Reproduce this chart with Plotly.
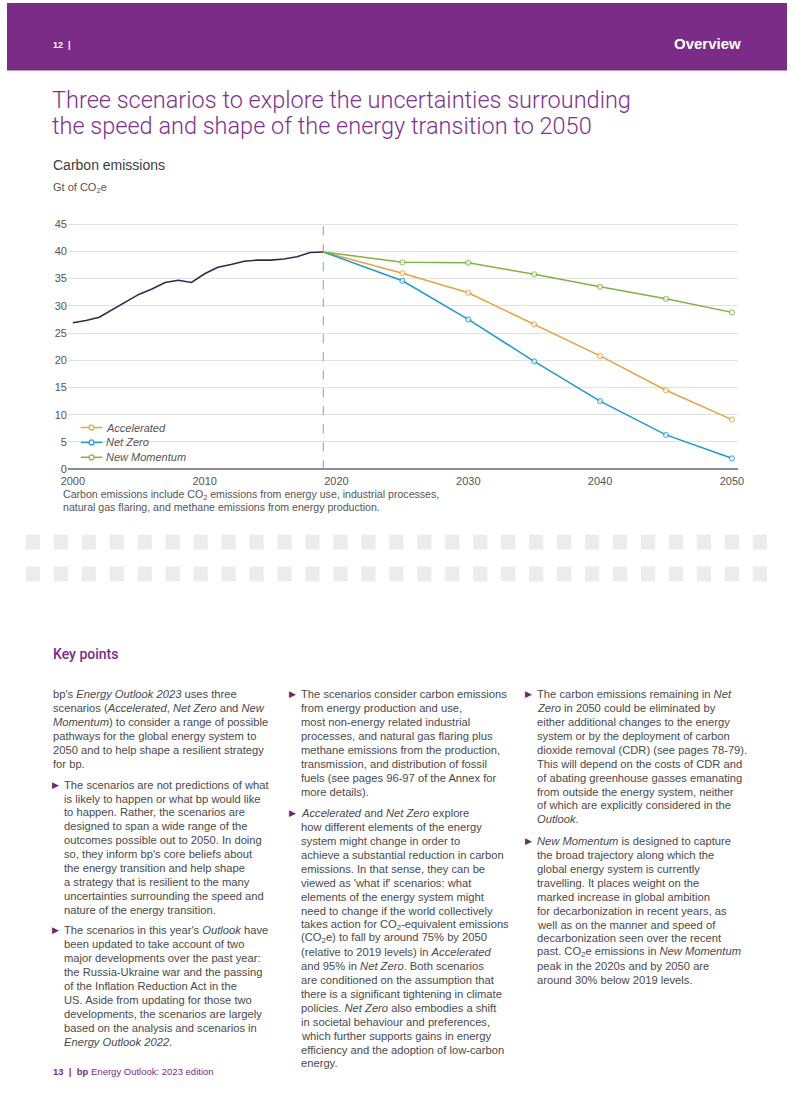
import plotly.graph_objects as go

W, H = 793, 1118

# ---------------- data ----------------
hist_years = list(range(2000, 2020))
hist_values = [26.9, 27.3, 27.9, 29.3, 30.8, 32.1, 33.1, 34.3, 34.7, 34.3,
               35.9, 37.1, 37.6, 38.2, 38.4, 38.4, 38.6, 39.0, 39.8, 39.9]

scen_years = [2019, 2025, 2030, 2035, 2040, 2045, 2050]
accelerated = [39.9, 36.0, 32.4, 26.6, 20.8, 14.5, 9.1]
net_zero = [39.9, 34.6, 27.5, 19.8, 12.5, 6.3, 2.0]
new_momentum = [39.9, 38.0, 37.9, 35.8, 33.5, 31.3, 28.8]

scenario_names = ["Accelerated", "Net Zero", "New Momentum"]
scenario_values = [accelerated, net_zero, new_momentum]
scenario_colors = ["#E9A23E", "#1E9BCB", "#82B143"]

x_ticks = [2000, 2010, 2020, 2030, 2040, 2050]
y_ticks = [0, 5, 10, 15, 20, 25, 30, 35, 40, 45]

# ---------------- page text ----------------
title_lines = ["Three scenarios to explore the uncertainties surrounding",
               "the speed and shape of the energy transition to 2050"]

col1_intro = ["bp's <i>Energy Outlook 2023</i> uses three",
              "scenarios (<i>Accelerated</i>, <i>Net Zero</i> and <i>New</i>",
              "<i>Momentum</i>) to consider a range of possible",
              "pathways for the global energy system to",
              "2050 and to help shape a resilient strategy",
              "for bp."]
col1_b1 = ["The scenarios are not predictions of what",
           "is likely to happen or what bp would like",
           "to happen. Rather, the scenarios are",
           "designed to span a wide range of the",
           "outcomes possible out to 2050. In doing",
           "so, they inform bp's core beliefs about",
           "the energy transition and help shape",
           "a strategy that is resilient to the many",
           "uncertainties surrounding the speed and",
           "nature of the energy transition."]
col1_b2 = ["The scenarios in this year's <i>Outlook</i> have",
           "been updated to take account of two",
           "major developments over the past year:",
           "the Russia-Ukraine war and the passing",
           "of the Inflation Reduction Act in the",
           "US. Aside from updating for those two",
           "developments, the scenarios are largely",
           "based on the analysis and scenarios in",
           "<i>Energy Outlook 2022</i>."]
col2_b1 = ["The scenarios consider carbon emissions",
           "from energy production and use,",
           "most non-energy related industrial",
           "processes, and natural gas flaring plus",
           "methane emissions from the production,",
           "transmission, and distribution of fossil",
           "fuels (see pages 96-97 of the Annex for",
           "more details)."]
col2_b2 = ["<i>Accelerated</i> and <i>Net Zero</i> explore",
           "how different elements of the energy",
           "system might change in order to",
           "achieve a substantial reduction in carbon",
           "emissions. In that sense, they can be",
           "viewed as 'what if' scenarios: what",
           "elements of the energy system might",
           "need to change if the world collectively",
           "takes action for CO<sub>2</sub>-equivalent emissions",
           "(CO<sub>2</sub>e) to fall by around 75% by 2050",
           "(relative to 2019 levels) in <i>Accelerated</i>",
           "and 95% in <i>Net Zero</i>. Both scenarios",
           "are conditioned on the assumption that",
           "there is a significant tightening in climate",
           "policies. <i>Net Zero</i> also embodies a shift",
           "in societal behaviour and preferences,",
           "which further supports gains in energy",
           "efficiency and the adoption of low-carbon",
           "energy."]
col3_b1 = ["The carbon emissions remaining in <i>Net</i>",
           "<i>Zero</i> in 2050 could be eliminated by",
           "either additional changes to the energy",
           "system or by the deployment of carbon",
           "dioxide removal (CDR) (see pages 78-79).",
           "This will depend on the costs of CDR and",
           "of abating greenhouse gasses emanating",
           "from outside the energy system, neither",
           "of which are explicitly considered in the",
           "<i>Outlook</i>."]
col3_b2 = ["<i>New Momentum</i> is designed to capture",
           "the broad trajectory along which the",
           "global energy system is currently",
           "travelling. It places weight on the",
           "marked increase in global ambition",
           "for decarbonization in recent years, as",
           "well as on the manner and speed of",
           "decarbonization seen over the recent",
           "past. CO<sub>2</sub>e emissions in <i>New Momentum</i>",
           "peak in the 2020s and by 2050 are",
           "around 30% below 2019 levels."]

# (x of text, y of first line, has bullet, lines)
blocks = [(45, 697, False, col1_intro), (56, 788, True, col1_b1), (56, 935, True, col1_b2),
          (297, 697, True, col2_b1), (297, 817, True, col2_b2),
          (537, 697, True, col3_b1), (537, 845, True, col3_b2)]


def px(x):
    return x / W


def py(y):
    return 1 - y / H


PURPLE = "#7A2C86"
TEXT = "#4a4a4a"
FONT = "Liberation Sans"

fig = go.Figure()

fig.add_trace(go.Scatter(x=hist_years, y=hist_values, mode="lines",
                         line=dict(color="#2D2C4F", width=1.6), showlegend=False,
                         hoverinfo="skip"))
for name, vals, col in zip(scenario_names, scenario_values, scenario_colors):
    fig.add_trace(go.Scatter(x=scen_years, y=vals, mode="lines+markers", name=name,
                             line=dict(color=col, width=1.5), showlegend=False,
                             marker=dict(symbol="circle", size=[0] + [5] * (len(vals) - 1),
                                         color="white", line=dict(color=col, width=1.2))))

shapes = []
# header band
shapes.append(dict(type="rect", xref="paper", yref="paper", x0=0, x1=1, y0=py(68), y1=1,
                   fillcolor=PURPLE, line=dict(width=0), layer="below"))
# 2019 divider
shapes.append(dict(type="line", xref="x", yref="y", x0=2019, x1=2019, y0=0, y1=45.4,
                   line=dict(color="#9a9a9a", width=1, dash="dash")))
# small tick at the zero line
shapes.append(dict(type="line", xref="paper", yref="y", x0=px(58), x1=px(62), y0=0, y1=0,
                   line=dict(color="#8c8c8c", width=1)))
# decorative blocks
for row_y in (536, 568):
    for k in range(27):
        x0 = 19 + k * 28.43
        shapes.append(dict(type="rect", xref="paper", yref="paper",
                           x0=px(x0), x1=px(x0 + 14.5), y0=py(row_y + 15), y1=py(row_y),
                           fillcolor="#ececec", line=dict(width=0), layer="below"))

ann = []


def text(x, y, s, size, color=TEXT, family=FONT, weight=None, xanchor="left", style=None):
    f = dict(size=size, color=color, family=family)
    if weight:
        f["weight"] = weight
    if style:
        f["style"] = style
    ann.append(dict(xref="paper", yref="paper", x=px(x), y=py(y), text=s, showarrow=False,
                    xanchor=xanchor, yanchor="middle", font=f, align="left"))


# manual legend (line + open marker + italic label)
for i, (name, col) in enumerate(zip(scenario_names, scenario_colors)):
    ly = 428 + 15 * i
    shapes.append(dict(type="line", xref="paper", yref="paper", x0=px(75), x1=px(97),
                       y0=py(ly), y1=py(ly), line=dict(color=col, width=1.5)))
    shapes.append(dict(type="circle", xref="paper", yref="paper", x0=px(83.5), x1=px(88.5),
                       y0=py(ly + 2.5), y1=py(ly - 2.5), fillcolor="white",
                       line=dict(color=col, width=1.2)))
    text(99, ly, name, 11, "#555555", style="italic")

text(45, 42, "12  |", 9, "white", weight="bold")
text(748, 41, "Overview", 15, "white", weight="bold", xanchor="right")
for i, line in enumerate(title_lines):
    text(44, 98 + i * 26, line, 23.5, "#7E3290", family="Roboto", weight=300)
text(45, 163, "Carbon emissions", 14, "#3c3c3c")
text(45, 187, "Gt of CO<sub>2</sub>e", 11, "#555555")
text(55, 496, "Carbon emissions include CO<sub>2</sub> emissions from energy use, industrial processes,", 10.6, "#555555")
text(55, 508, "natural gas flaring, and methane emissions from energy production.", 10.6, "#555555")
text(45, 656, "Key points", 14, PURPLE, family="Roboto", weight=500)

for bx, by, bullet, lines in blocks:
    if bullet:
        text(bx - 12, by, "\u25B6", 9, "#6A2A76", family="DejaVu Sans")
    for i, line in enumerate(lines):
        text(bx, by + 14 * i, line, 11.2)

text(45, 1077, "<b>13  |  bp</b> Energy Outlook: 2023 edition", 9.5, PURPLE)

fig.update_layout(
    width=W, height=H, margin=dict(l=0, r=0, t=0, b=0), autosize=False,
    paper_bgcolor="white", plot_bgcolor="white",
    font=dict(family=FONT, color="#555555"),
    shapes=shapes, annotations=ann,
    xaxis=dict(domain=[px(62), px(743)], range=[1999.63, 2050.45], tickvals=x_ticks,
               showgrid=False, showline=False, zeroline=False, ticks="",
               ticklabelstandoff=4,
               tickfont=dict(size=11, color="#555555")),
    yaxis=dict(domain=[py(470), py(470 - 45.5 * 5.49)], range=[0, 45.5], tickvals=y_ticks,
               showgrid=True, gridcolor="#e2e2e2", gridwidth=1, zeroline=True,
               zerolinecolor="#8c8c8c", zerolinewidth=2, showline=False, ticks="",
               tickfont=dict(size=11, color="#555555")),
    showlegend=False,
)

fig.write_html(
    "out.html",
    config={"displayModeBar": False, "responsive": False},
    post_script="document.documentElement.style.margin='0';document.body.style.margin='0';"
                "document.body.style.overflow='hidden';",
)
